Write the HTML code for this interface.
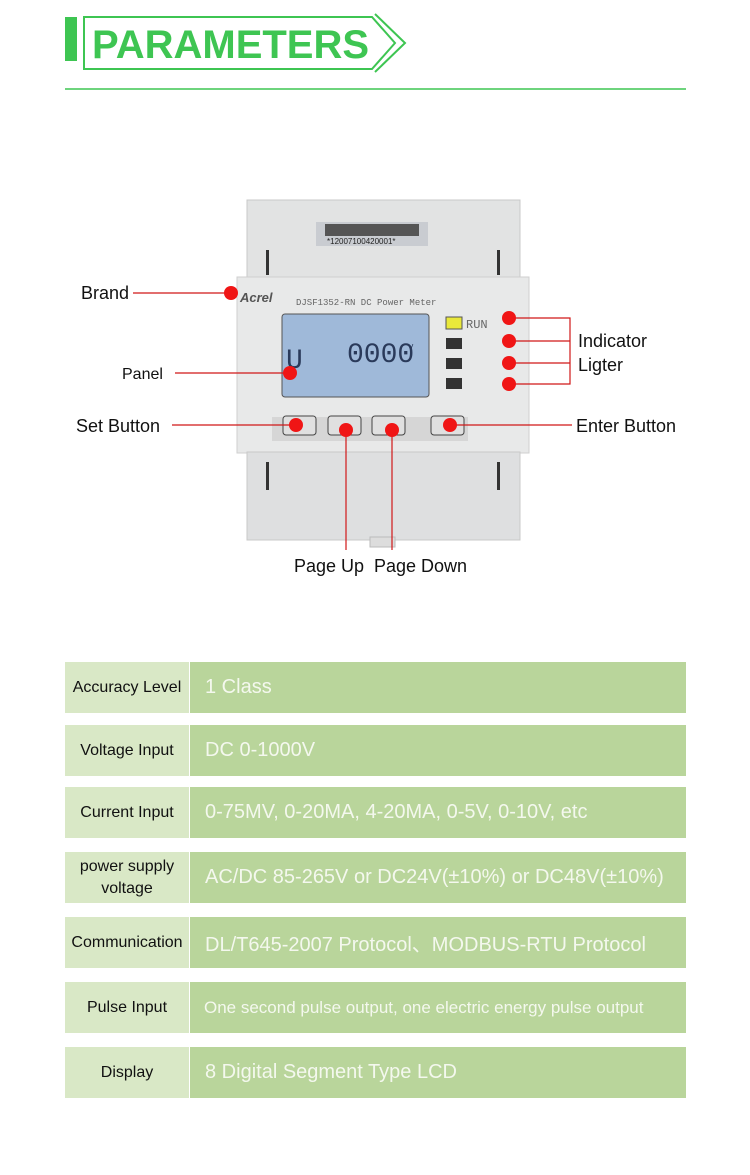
<!DOCTYPE html>
<html><head><meta charset="utf-8"><style>
body{margin:0;width:750px;height:1175px;background:#fff;position:relative;overflow:hidden;font-family:"Liberation Sans","DejaVu Sans",sans-serif}
.row{position:absolute;left:65px;width:621px;height:51px}
.l{position:absolute;left:0;top:0;width:124px;height:51px;background:#d9e8c6;display:flex;align-items:center;justify-content:center;text-align:center;font-size:16px;color:#111;line-height:22px}
.v{position:absolute;left:125px;top:0;width:496px;height:51px;background:#b9d59b;display:flex;align-items:center;padding-left:15px;box-sizing:border-box;color:#f4f8ee;font-size:20px;white-space:nowrap}
</style></head><body>
<svg width="750" height="640" style="position:absolute;left:0;top:0" font-family="Liberation Sans, sans-serif">
<rect x="65" y="17" width="12" height="44" fill="#3ec552"/>
<polygon points="84,17 372,17 395,43 372,69 84,69" fill="none" stroke="#3ec552" stroke-width="2"/>
<polyline points="375,14 405,43 375,72" fill="none" stroke="#3ec552" stroke-width="2"/>
<text x="92" y="58" font-size="40" font-weight="bold" fill="#3ec552">PARAMETERS</text>
<line x1="65" y1="89" x2="686" y2="89" stroke="#3ec552" stroke-width="1.5"/>
<!-- meter -->
<rect x="247" y="200" width="273" height="80" fill="#e2e3e3" stroke="#c8c8c8"/>
<rect x="316" y="222" width="112" height="24" fill="#c9ccd1"/>
<rect x="325" y="224" width="94" height="12" fill="#555"/>
<text x="327" y="244" font-size="8" fill="#222">*12007100420001*</text>
<rect x="266" y="250" width="3" height="25" fill="#333"/><rect x="497" y="250" width="3" height="25" fill="#333"/>
<rect x="237" y="277" width="292" height="176" fill="#e8e9e9" stroke="#cfcfcf"/>
<text x="240" y="302" font-size="13" font-style="italic" font-weight="bold" fill="#555">Acrel</text>
<text x="296" y="305" font-size="9" font-family="Liberation Mono, monospace" fill="#666">DJSF1352-RN DC Power Meter</text>
<rect x="282" y="314" width="147" height="83" rx="3" fill="#9fb9d9" stroke="#555"/>
<text x="286" y="368" font-size="28" font-family="Liberation Mono, monospace" fill="#2a3a5a">U</text>
<text x="347" y="362" font-size="28" font-family="Liberation Mono, monospace" fill="#2a3a5a">0000</text>
<text x="408" y="350" font-size="8" fill="#2a3a5a">V</text>
<rect x="446" y="317" width="16" height="12" fill="#e9e83a" stroke="#555"/>
<text x="466" y="328" font-size="12" font-family="Liberation Mono, monospace" fill="#666">RUN</text>
<rect x="446" y="338" width="16" height="11" fill="#333"/>
<rect x="446" y="358" width="16" height="11" fill="#333"/>
<rect x="446" y="378" width="16" height="11" fill="#333"/>
<rect x="272" y="417" width="196" height="24" fill="#d6d6d6"/>
<rect x="283" y="416" width="33" height="19" rx="3" fill="#e0e0e0" stroke="#444"/>
<rect x="328" y="416" width="33" height="19" rx="3" fill="#e0e0e0" stroke="#444"/>
<rect x="372" y="416" width="33" height="19" rx="3" fill="#e0e0e0" stroke="#444"/>
<rect x="431" y="416" width="33" height="19" rx="3" fill="#e0e0e0" stroke="#444"/>
<rect x="247" y="452" width="273" height="88" fill="#dedfe0" stroke="#c8c8c8"/>
<rect x="266" y="462" width="3" height="28" fill="#333"/><rect x="497" y="462" width="3" height="28" fill="#333"/>
<rect x="370" y="537" width="25" height="10" fill="#ddd" stroke="#bbb"/>
<!-- callouts -->
<g stroke="#d01818" stroke-width="1.2" fill="none">
<line x1="133" y1="293" x2="231" y2="293"/>
<line x1="175" y1="373" x2="290" y2="373"/>
<line x1="172" y1="425" x2="296" y2="425"/>
<line x1="346" y1="430" x2="346" y2="550"/>
<line x1="392" y1="430" x2="392" y2="550"/>
<line x1="450" y1="425" x2="572" y2="425"/>
<polyline points="509,318 570,318 570,384 509,384"/>
<line x1="509" y1="341" x2="570" y2="341"/>
<line x1="509" y1="363" x2="570" y2="363"/>
</g>
<g fill="#f01515">
<circle cx="231" cy="293" r="7"/><circle cx="290" cy="373" r="7"/><circle cx="296" cy="425" r="7"/>
<circle cx="346" cy="430" r="7"/><circle cx="392" cy="430" r="7"/><circle cx="450" cy="425" r="7"/>
<circle cx="509" cy="318" r="7"/><circle cx="509" cy="341" r="7"/><circle cx="509" cy="363" r="7"/><circle cx="509" cy="384" r="7"/>
</g>
<g font-size="18" fill="#111">
<text x="81" y="299">Brand</text>
<text x="122" y="379" font-size="16">Panel</text>
<text x="76" y="432">Set Button</text>
<text x="578" y="347">Indicator</text>
<text x="578" y="371">Ligter</text>
<text x="576" y="432">Enter Button</text>
<text x="294" y="572">Page Up</text>
<text x="374" y="572">Page Down</text>
</g>
</svg>
<div class="row" style="top:662px"><div class="l">Accuracy Level</div><div class="v">1 Class</div></div>
<div class="row" style="top:725px"><div class="l">Voltage Input</div><div class="v">DC 0-1000V</div></div>
<div class="row" style="top:787px"><div class="l">Current Input</div><div class="v">0-75MV, 0-20MA, 4-20MA, 0-5V, 0-10V, etc</div></div>
<div class="row" style="top:852px"><div class="l">power supply<br>voltage</div><div class="v">AC/DC 85-265V or DC24V(±10%) or DC48V(±10%)</div></div>
<div class="row" style="top:917px"><div class="l">Communication</div><div class="v">DL/T645-2007 Protocol、MODBUS-RTU Protocol</div></div>
<div class="row" style="top:982px"><div class="l">Pulse Input</div><div class="v" style="font-size:17px;padding-left:14px">One second pulse output, one electric energy pulse output</div></div>
<div class="row" style="top:1047px"><div class="l">Display</div><div class="v">8 Digital Segment Type LCD</div></div>
</body></html>
